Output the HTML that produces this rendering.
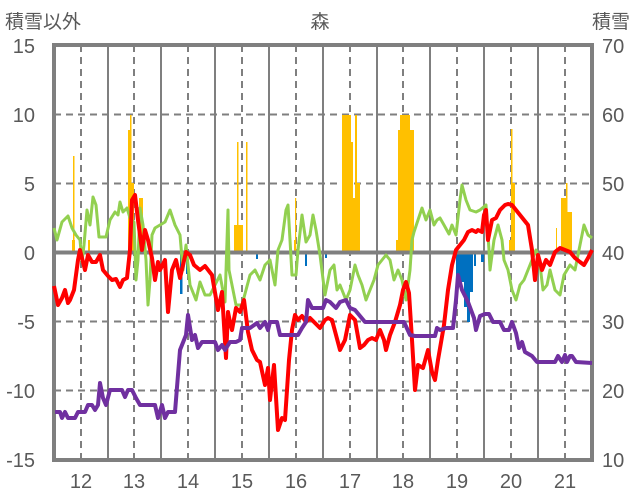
<!DOCTYPE html>
<html><head><meta charset="utf-8"><style>
body{margin:0;background:#fff}
svg{display:block}
text{font-family:"Liberation Sans","Noto Sans CJK JP",sans-serif;fill:#595959}
</style></head><body>
<svg width="636" height="501" viewBox="0 0 636 501">
<g font-size="20">
<text x="5" y="28" font-size="19">積雪以外</text>
<text x="320" y="28" font-size="19" text-anchor="middle">森</text>
<text x="630" y="28" font-size="19" text-anchor="end">積雪</text>
<g text-anchor="end">
<text x="35" y="53">15</text><text x="35" y="122">10</text><text x="35" y="191">5</text>
<text x="35" y="260">0</text><text x="35" y="329">-5</text><text x="35" y="398">-10</text><text x="35" y="467">-15</text>
</g>
<g>
<text x="602" y="53">70</text><text x="602" y="122">60</text><text x="602" y="191">50</text>
<text x="602" y="260">40</text><text x="602" y="329">30</text><text x="602" y="398">20</text><text x="602" y="467">10</text>
</g>
<g text-anchor="middle">
<text x="81" y="488">12</text><text x="134" y="488">13</text><text x="188" y="488">14</text><text x="242" y="488">15</text><text x="296" y="488">16</text><text x="350" y="488">17</text><text x="403" y="488">18</text><text x="457" y="488">19</text><text x="511" y="488">20</text><text x="565" y="488">21</text>
</g>
</g>
<!-- grid -->
<g stroke="#7f7f7f" stroke-width="2" stroke-dasharray="7,5">
<line x1="54" y1="114.5" x2="592" y2="114.5"/><line x1="54" y1="183.5" x2="592" y2="183.5"/>
<line x1="54" y1="321.5" x2="592" y2="321.5"/><line x1="54" y1="390.5" x2="592" y2="390.5"/>
<line x1="81" y1="45" x2="81" y2="460"/><line x1="134" y1="45" x2="134" y2="460"/><line x1="188" y1="45" x2="188" y2="460"/><line x1="242" y1="45" x2="242" y2="460"/><line x1="296" y1="45" x2="296" y2="460"/><line x1="350" y1="45" x2="350" y2="460"/><line x1="403" y1="45" x2="403" y2="460"/><line x1="457" y1="45" x2="457" y2="460"/><line x1="511" y1="45" x2="511" y2="460"/><line x1="565" y1="45" x2="565" y2="460"/>
</g>
<g stroke="#7f7f7f" stroke-width="2">
<line x1="108" y1="45" x2="108" y2="460"/><line x1="161" y1="45" x2="161" y2="460"/><line x1="215" y1="45" x2="215" y2="460"/><line x1="269" y1="45" x2="269" y2="460"/><line x1="323" y1="45" x2="323" y2="460"/><line x1="377" y1="45" x2="377" y2="460"/><line x1="430" y1="45" x2="430" y2="460"/><line x1="484" y1="45" x2="484" y2="460"/><line x1="538" y1="45" x2="538" y2="460"/>
</g>
<!-- orange bars -->
<g fill="#ffc000">
<rect x="72" y="240" width="3" height="12"/><rect x="73" y="156" width="1.5" height="96"/><rect x="88" y="240" width="2" height="12"/>
<rect x="128" y="130" width="2" height="122"/><rect x="130" y="115" width="1.5" height="137"/><rect x="131" y="183" width="3" height="69"/><rect x="139" y="198" width="4" height="54"/>
<rect x="234" y="225" width="9" height="27"/><rect x="237" y="142" width="1.5" height="110"/><rect x="246" y="142" width="1.5" height="110"/>
<rect x="294" y="240" width="2" height="12"/><rect x="295" y="198" width="1.2" height="54"/>
<rect x="342" y="115" width="9" height="137"/><rect x="351" y="142" width="2" height="110"/><rect x="353" y="198" width="2" height="54"/><rect x="355" y="115" width="2" height="137"/><rect x="357" y="183" width="3" height="69"/>
<rect x="396" y="240" width="4" height="12"/><rect x="398" y="130" width="3" height="122"/><rect x="400" y="115" width="10" height="137"/><rect x="410" y="130" width="4" height="122"/>
<rect x="509" y="240" width="2" height="12"/><rect x="511" y="129" width="1.5" height="123"/><rect x="512" y="183" width="3" height="69"/>
<rect x="556" y="228" width="1" height="24"/><rect x="561" y="198" width="5" height="54"/><rect x="566" y="183" width="1.5" height="69"/><rect x="567" y="212" width="5" height="40"/>
</g>
<!-- blue bars -->
<g fill="#0070c0">
<rect x="180" y="252" width="2.5" height="42"/><rect x="186" y="252" width="2" height="22"/><rect x="256" y="252" width="2" height="7"/><rect x="305" y="252" width="2" height="14"/><rect x="325" y="252" width="2" height="6"/>
<rect x="456" y="252" width="4" height="25"/><rect x="460" y="252" width="4" height="30"/><rect x="464" y="252" width="3" height="55"/><rect x="467" y="252" width="3" height="70"/><rect x="470" y="252" width="3" height="40"/><rect x="474" y="252" width="2" height="14"/><rect x="481" y="252" width="3" height="10"/>
</g>
<!-- frame -->
<g fill="none" stroke="#7f7f7f" stroke-width="4">
<rect x="54" y="45" width="538" height="415"/>
<line x1="54" y1="252.5" x2="592" y2="252.5"/>
</g>
<!-- green -->
<polyline fill="none" stroke="#92d050" stroke-width="3" stroke-linejoin="round" points="54,228 57,240 62,222 68,216 72,228 76,235 80,240 82,262 84,245 87,210 90,225 93,197 96,205 99,237 106,237 110,220 115,212 118,215 120,202 123,212 127,208 130,218 134,222 136,280 138,260 140,208 143,225 146,260 148,305 150,280 152,235 155,228 160,225 165,222 170,210 175,225 180,235 183,270 186,245 190,285 196,300 200,282 205,295 210,295 215,285 220,275 225,302 228,210 229,270 233,290 236,305 242,305 246,290 250,275 255,270 260,280 265,265 270,260 275,285 278,250 282,240 286,210 288,205 292,275 296,275 298,250 302,215 306,242 310,235 313,215 316,230 320,255 325,295 330,270 334,265 337,290 340,285 346,300 350,290 355,265 358,275 362,285 366,300 370,290 374,280 378,265 382,260 386,255 390,260 394,280 398,270 402,280 406,300 410,270 412,240 414,232 418,220 422,208 426,220 430,210 434,225 437,220 440,218 444,225 449,234 452,225 456,235 460,200 462,185 466,200 470,210 476,212 480,210 486,205 489,250 490,270 494,240 498,225 502,240 504,260 508,270 512,290 516,300 520,285 524,280 528,270 532,260 536,250 540,265 543,290 547,285 550,270 555,290 560,295 564,275 570,265 575,270 580,245 584,225 588,235 592,238"/>
<!-- red -->
<polyline fill="none" stroke="#ff0000" stroke-width="4" stroke-linejoin="round" points="54,286 58,305 62,298 65,290 68,303 70,300 74,290 78,260 80,250 83,262 85,270 88,255 92,262 96,262 100,255 103,270 108,276 112,280 116,279 120,287 123,280 127,278 130,250 132,200 135,195 138,220 142,250 145,230 148,240 152,258 155,280 158,262 160,270 165,260 168,312 172,270 176,260 180,278 186,252 190,255 194,265 200,270 205,266 212,275 218,310 222,292 226,358 228,312 230,322 232,330 236,308 240,312 244,300 248,332 252,350 257,360 260,362 265,385 268,368 270,400 274,365 278,430 282,418 285,420 289,360 292,330 295,315 298,320 302,316 306,322 310,318 314,322 320,328 325,320 328,318 332,320 336,335 340,350 345,340 350,315 355,320 360,348 364,345 368,340 372,338 376,340 380,330 384,340 386,350 390,335 395,322 400,305 403,290 406,282 409,293 412,340 415,390 418,365 423,368 428,350 432,372 435,380 438,360 444,325 448,290 452,265 456,250 460,245 464,240 468,232 472,230 476,232 478,230 482,232 484,215 486,210 488,240 492,220 496,218 500,210 505,205 508,204 512,205 516,210 520,215 524,220 528,225 532,250 535,280 538,255 542,270 546,260 550,265 555,252 560,248 565,250 570,252 575,258 580,262 584,265 588,258 592,250"/>
<!-- purple -->
<polyline fill="none" stroke="#7030a0" stroke-width="4" stroke-linejoin="round" points="55,412 60,412 62,418 65,412 68,418 75,418 78,412 85,412 88,405 92,405 95,410 98,405 100,383 103,398 106,405 110,390 122,390 125,397 128,390 132,390 136,398 140,405 155,405 158,418 162,405 165,418 168,412 175,412 180,350 186,335 188,315 192,340 195,335 198,348 202,342 210,342 215,342 218,350 222,345 225,350 230,342 236,342 240,340 242,328 250,328 257,323 260,328 265,322 268,330 270,322 277,322 280,335 290,335 298,335 302,328 306,322 308,300 312,308 323,308 326,300 330,302 336,308 340,302 346,300 350,308 355,310 360,316 365,322 404,322 410,335 415,336 435,336 437,328 440,330 446,328 453,328 456,300 458,275 462,290 468,302 474,318 476,330 480,316 485,314 489,314 493,322 500,322 504,330 509,330 512,322 516,333 519,348 522,342 525,352 532,356 537,362 555,362 558,356 562,362 565,355 567,362 570,356 572,356 576,362 592,363"/>
</svg>
</body></html>
